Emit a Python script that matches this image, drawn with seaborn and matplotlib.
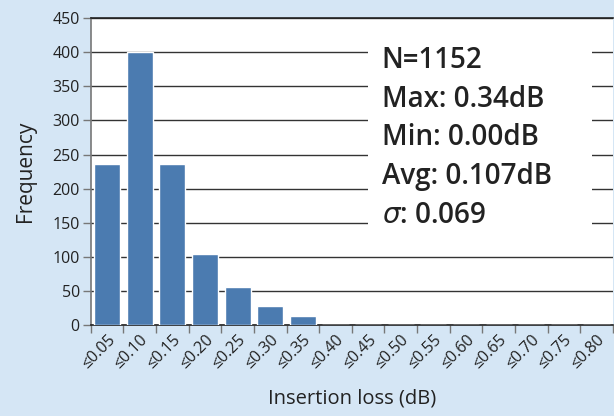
import pandas as pd
import matplotlib
import matplotlib.pyplot as plt
import seaborn as sns
from matplotlib.patches import Rectangle
matplotlib.use('Agg')

# bins and counts
bins = ['≤0.05', '≤0.10', '≤0.15', '≤0.20', '≤0.25', '≤0.30', '≤0.35', '≤0.40',
        '≤0.45', '≤0.50', '≤0.55', '≤0.60', '≤0.65', '≤0.70', '≤0.75', '≤0.80']
counts = [236, 400, 236, 105, 56, 28, 14, 0, 0, 0, 0, 0, 0, 0, 0, 0]
yticks = [0, 50, 100, 150, 200, 250, 300, 350, 400, 450]
stats = ['N=1152', 'Max: 0.34dB', 'Min: 0.00dB', 'Avg: 0.107dB', r'$\sigma$: 0.069']

bg = '#d5e6f5'
bar_color = '#4b7bb0'
ink = '#222222'

sns.set_style('white')
plt.rcParams['font.family'] = ['Open Sans', 'DejaVu Sans']
plt.rcParams['text.color'] = ink

df = pd.DataFrame({'bin': bins, 'count': counts})

fig = plt.figure(figsize=(6.14, 4.16), dpi=100, facecolor=bg)
ax = fig.add_axes([0.148, 0.218, 0.850, 0.739])
ax.set_facecolor('white')

sns.barplot(data=df, x='bin', y='count', color=bar_color, width=0.8,
            saturation=1, ax=ax, zorder=3)

ax.set_ylim(0, 450)
ax.set_xlim(-0.5, len(bins) - 0.5)
ax.set_yticks(yticks)
ax.yaxis.grid(True, color='#333333', linewidth=1.0)
ax.set_axisbelow(True)

# tick marks sit on the bin boundaries, labels on the bins
ax.set_xticks([i - 0.5 for i in range(len(bins) + 1)], minor=True)
ax.tick_params(axis='x', which='major', length=0, pad=5, labelsize=11.5,
               labelcolor=ink)
ax.tick_params(axis='x', which='minor', length=6, width=1, color='#777777',
               direction='out', bottom=True)
ax.tick_params(axis='y', length=6, width=1, color='#777777', direction='out',
               left=True, labelsize=11.5, labelcolor=ink, pad=2)
plt.setp(ax.get_xticklabels(), rotation=45, ha='right', rotation_mode='anchor')

for side in ['top', 'bottom']:
    ax.spines[side].set_color(ink)
    ax.spines[side].set_linewidth(1.2)
ax.spines['left'].set_color('#777777')
ax.spines['left'].set_linewidth(1.2)
ax.spines['right'].set_visible(False)

ax.set_xlabel('Insertion loss (dB)', fontsize=14.5, color=ink)
ax.xaxis.set_label_coords(0.5, -0.205)
ax.set_ylabel('Frequency', fontsize=15, color=ink)
ax.yaxis.set_label_coords(-0.105, 0.5)

# white panel with the summary stats
ax.add_patch(Rectangle((0.531, 0.278), 0.429, 0.65, transform=ax.transAxes,
                       facecolor='white', edgecolor='none', zorder=4))
for i, s in enumerate(stats):
    ax.text(0.557, 0.862 - i * 0.126, s, transform=ax.transAxes, fontsize=20,
            fontweight='semibold', va='center', ha='left', color=ink, zorder=5)

fig.savefig('out.png', dpi=100, facecolor=bg)
